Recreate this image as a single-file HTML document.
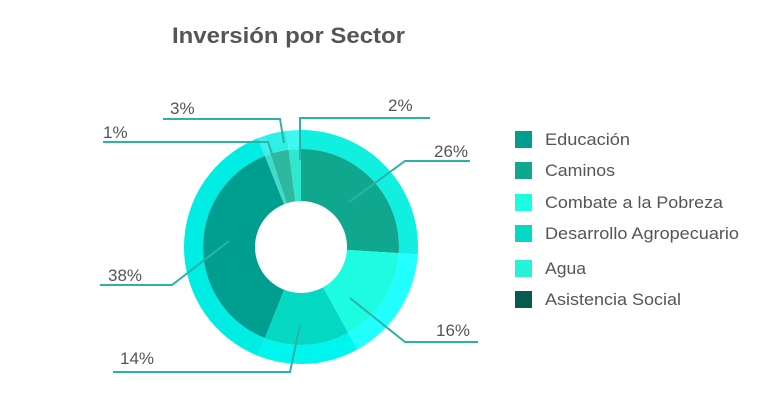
<!DOCTYPE html>
<html><head><meta charset="utf-8"><style>
body{margin:0;background:#fff;width:758px;height:403px;overflow:hidden;font-family:"Liberation Sans",Arial,sans-serif;}
svg text{font-family:"Liberation Sans",Arial,sans-serif;fill:#555;}
</style></head><body>
<svg id="s" width="758" height="403" viewBox="0 0 758 403" xmlns="http://www.w3.org/2000/svg">
<text x="172" y="43" font-size="22" font-weight="bold" textLength="233" lengthAdjust="spacingAndGlyphs">Inversión por Sector</text>
<g id="pie"></g>
<g fill="none" stroke="#2ab3a6" stroke-width="2">
<polyline points="300,160 300,118 430,118"/>
<polyline points="284,143 280,119 163,119"/>
<polyline points="282,185 268,142 103,142"/>
<polyline points="349,202 405,161 470,161"/>
<polyline points="350,298 405,342 478,342"/>
<polyline points="300,325 290,372 113,372"/>
<polyline points="229,241 172,285 100,285"/>
</g>
<g font-size="17">
<text x="388" y="111">2%</text>
<text x="170" y="114">3%</text>
<text x="103" y="138">1%</text>
<text x="434" y="157">26%</text>
<text x="436" y="336">16%</text>
<text x="120" y="364">14%</text>
<text x="108" y="281">38%</text>
</g>
<g font-size="17">
<rect x="515" y="131" width="17" height="17" fill="#009e8f"/><text x="545" y="145" textLength="85" lengthAdjust="spacingAndGlyphs">Educación</text>
<rect x="515" y="162" width="17" height="17" fill="#0fa88f"/><text x="545" y="176" textLength="70" lengthAdjust="spacingAndGlyphs">Caminos</text>
<rect x="515" y="194" width="17" height="17" fill="#1dfbe0"/><text x="545" y="208" textLength="178" lengthAdjust="spacingAndGlyphs">Combate a la Pobreza</text>
<rect x="515" y="225" width="17" height="17" fill="#05d9c4"/><text x="545" y="239" textLength="194" lengthAdjust="spacingAndGlyphs">Desarrollo Agropecuario</text>
<rect x="515" y="260" width="17" height="17" fill="#25f2d6"/><text x="545" y="274" textLength="41" lengthAdjust="spacingAndGlyphs">Agua</text>
<rect x="515" y="291" width="17" height="17" fill="#075a50"/><text x="545" y="305" textLength="136" lengthAdjust="spacingAndGlyphs">Asistencia Social</text>
</g>
</svg>
<script>
var cx=301,cy=247;
function arc(r0,r1,a0,a1,c){
 function p(r,a){a=(a-90)*Math.PI/180;return [cx+r*Math.cos(a),cy+r*Math.sin(a)];}
 var l=(a1-a0)>180?1:0,A=p(r1,a0),B=p(r1,a1),C=p(r0,a1),D=p(r0,a0);
 return '<path fill="'+c+'" d="M'+A+' A'+r1+','+r1+' 0 '+l+' 1 '+B+' L'+C+' A'+r0+','+r0+' 0 '+l+' 0 '+D+'Z"/>';
}
var seg=[[0,93.6,'#0fa88f','#10efe0'],[93.6,151.2,'#1dfbe0','#22ffff'],[151.2,201.6,'#05d9c4','#00f5ee'],[201.6,338.4,'#009e8f','#00ede4'],[338.4,342,'#3fdcc8','#40f0e8'],[342,352.8,'#2fb8a0','#2ff0e4'],[352.8,360,'#2fe8d0','#40f8f0']];
var h='';
seg.forEach(function(s){h+=arc(98,117,s[0],s[1],s[3]);h+=arc(46,98,s[0],s[1],s[2]);});
document.getElementById('pie').innerHTML=h;
</script>
</body></html>
